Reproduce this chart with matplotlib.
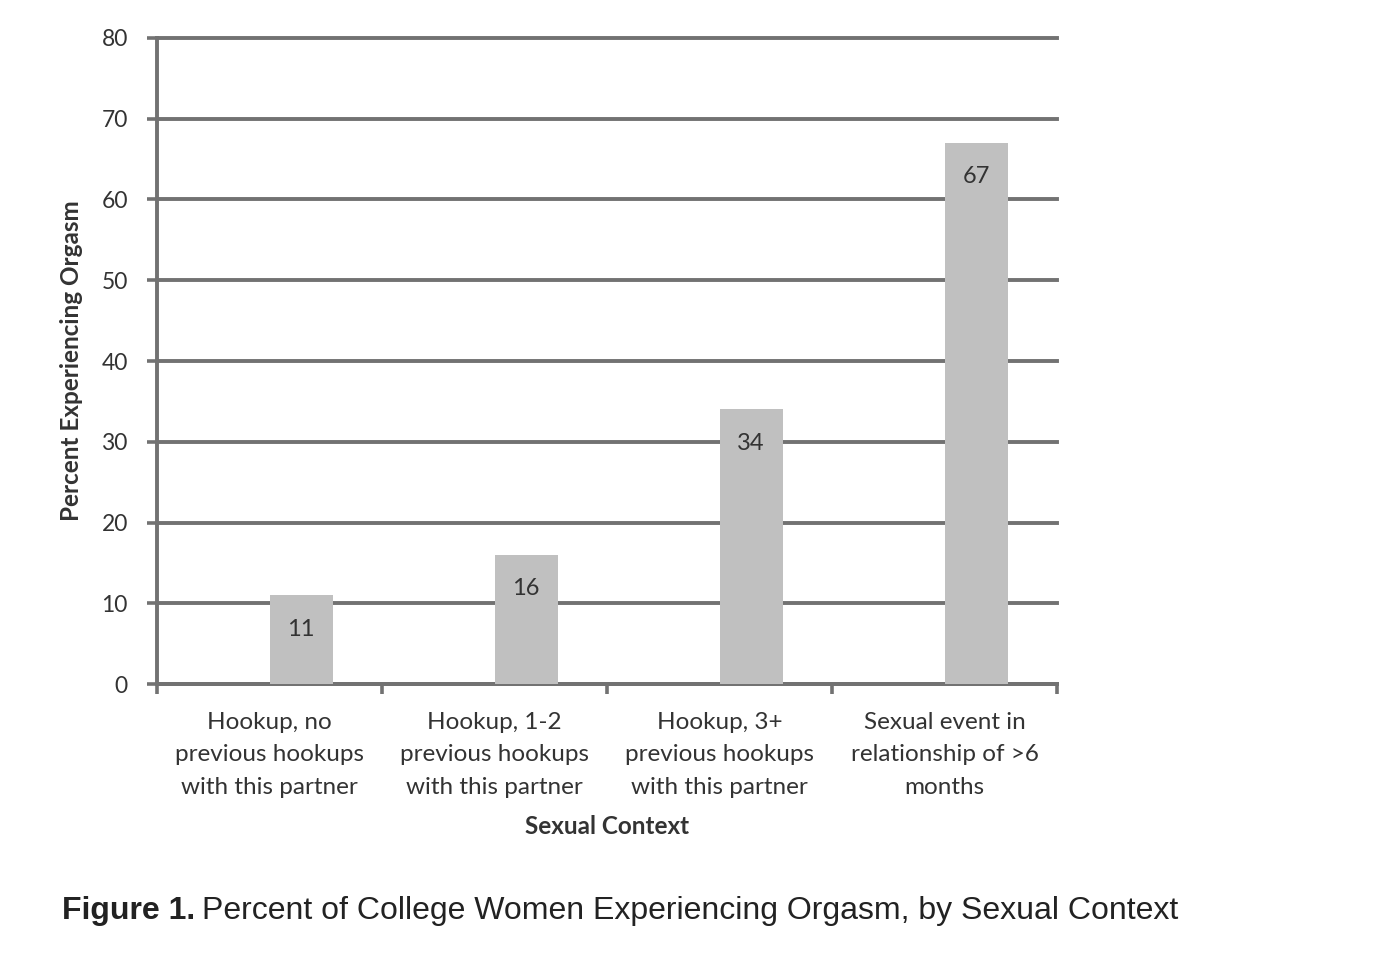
import matplotlib.pyplot as plt
import numpy as np

categories = ["Hookup, no\nprevious hookups\nwith this partner",
              "Hookup, 1-2\nprevious hookups\nwith this partner",
              "Hookup, 3+\nprevious hookups\nwith this partner",
              "Sexual event in\nrelationship of >6\nmonths"]
values = [11, 16, 34, 67]
y_ticks = [0, 10, 20, 30, 40, 50, 60, 70, 80]

grid_color = '#727272'
text_color = '#333333'
bar_color = '#c0c0c0'


def plot_chart():
    plt.rcParams['font.family'] = ['Lato', 'DejaVu Sans']
    fig = plt.figure(figsize=(13.78, 9.72), dpi=100)
    ax = fig.add_axes([157 / 1378, 1 - 684 / 972, 900 / 1378, 646 / 972])

    x = np.arange(len(values))
    # bars sit right of the category centre, like an Excel cluster
    bars = ax.bar(x + 0.14, values, width=0.28, color=bar_color, zorder=3)
    for b, v in zip(bars, values):
        ax.text(b.get_x() + b.get_width() / 2, v - 2.9, str(v),
                ha='center', va='top', fontsize=17, color=text_color, zorder=4)

    ax.set_xlim(-0.5, 3.5)
    ax.set_ylim(0, 80)
    ax.set_yticks(y_ticks)
    for gl in ax.yaxis.get_gridlines():
        gl.set_clip_on(False)
    ax.yaxis.grid(True, color=grid_color, linewidth=2.8, zorder=1)
    ax.set_axisbelow(True)

    # category labels between tick marks
    ax.set_xticks([-0.5, 0.5, 1.5, 2.5, 3.5])
    ax.set_xticklabels([])
    ax.set_xticks(x, minor=True)
    ax.set_xticklabels(categories, minor=True, fontsize=17.5, color=text_color,
                       linespacing=1.68)
    ax.tick_params(axis='x', which='minor', length=0, pad=20)
    ax.tick_params(axis='x', which='major', length=7, width=2.6, color=grid_color)
    ax.tick_params(axis='y', length=7, width=2.6, color=grid_color,
                   labelsize=16.5, labelcolor=text_color, pad=14)

    for s in ['top', 'right']:
        ax.spines[s].set_visible(False)
    for s in ['left', 'bottom']:
        ax.spines[s].set_color(grid_color)
        ax.spines[s].set_linewidth(2.8)

    ax.set_ylabel("Percent Experiencing Orgasm", fontsize=17.5, fontweight='bold',
                  color=text_color, labelpad=13)
    ax.set_xlabel("Sexual Context", fontsize=17.5, fontweight='bold',
                  color=text_color, labelpad=12)

    # caption: bold "Figure 1." followed by normal text
    fig.canvas.draw()
    t1 = fig.text(62 / 1378, 1 - 911 / 972, "Figure 1.", fontsize=23,
                  fontweight='bold', family='Liberation Sans',
                  va='center', ha='left', color='#222222')
    bb = t1.get_window_extent(renderer=fig.canvas.get_renderer())
    fig.text((bb.x1 + 7) / 1378, 1 - 911 / 972,
             "Percent of College Women Experiencing Orgasm, by Sexual Context",
             fontsize=23, family='Liberation Sans', va='center', ha='left',
             color='#222222')
    plt.savefig("out.png", dpi=100)


if __name__ == '__main__':
    plot_chart()
